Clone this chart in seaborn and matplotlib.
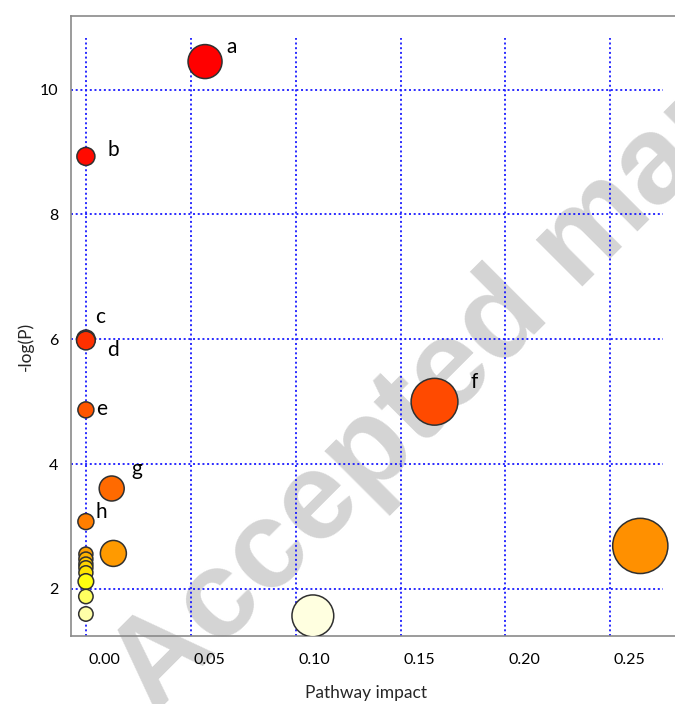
import matplotlib
matplotlib.use("Agg")
import matplotlib.pyplot as plt
import matplotlib.transforms as mtransforms
import numpy as np
import pandas as pd
import seaborn as sns

# ---- pathway data -------------------------------------------------------
impact = [0.0568, 0.0, 0.0, 0.0, 0.1662, 0.0, 0.0123, 0.0, 0.2643, 0.0131,
          0.0, 0.0, 0.0, 0.0, 0.0, 0.0, 0.0, 0.0, 0.1082]
neg_log_p = [10.45, 8.93, 6.00, 5.98, 5.00, 4.87, 3.61, 3.08, 2.69, 2.57,
             2.56, 2.48, 2.40, 2.34, 2.26, 2.12, 1.88, 1.60, 1.57]
point_labels = ["a", "b", "c", "d", "f", "e", "g", "h", "", "",
                "", "", "", "", "", "", "", "", ""]

x_ticks = [0.0, 0.05, 0.10, 0.15, 0.20, 0.25]
x_tick_labels = ["0.00", "0.05", "0.10", "0.15", "0.20", "0.25"]
y_ticks = [2, 4, 6, 8, 10]
y_tick_labels = ["2", "4", "6", "8", "10"]

# ---- per-point styling --------------------------------------------------
fill_colors = ["#FF0000", "#FF0A00", "#FF3000", "#FF3000", "#FF4A00", "#FF5500",
               "#FF6A00", "#FF7E00", "#FF9000", "#FF9A00",
               "#FFA000", "#FFB200", "#FFC400", "#FFD400", "#FFE400",
               "#FFFF10", "#FFFF60", "#FFFFA8", "#FFFFE0"]
radius_px = [17, 9, 9.3, 9.3, 23.4, 8, 12.5, 8, 27.6, 13,
             7, 7, 7, 7, 7, 7.8, 7.2, 7.2, 20.9]
# text offsets (pixels, y up) of each letter from its bubble centre
label_offsets = {"a": (27, 8.4), "b": (27.5, 0.7), "c": (14.6, 16),
                 "d": (27.5, -15.7), "e": (15.3, -5), "f": (39.4, 13.4),
                 "g": (25, 13.3), "h": (15.3, 3.4)}

DPI = 100
sns.set_style("white")
plt.rcParams["font.family"] = ["Lato", "DejaVu Sans"]

df = pd.DataFrame({
    "id": [f"p{i}" for i in range(len(impact))],
    "impact": impact,
    "neg_log_p": neg_log_p,
    "label": point_labels,
})
palette = dict(zip(df["id"], fill_colors))
sizes = {pid: (2 * r * 72 / DPI) ** 2 for pid, r in zip(df["id"], radius_px)}

fig = plt.figure(figsize=(6.75, 7.04), dpi=DPI)
W, H = 675, 704
ax = fig.add_axes([71 / W, 1 - 636 / H, (690 - 71) / W, (636 - 16) / H])
ax.set_facecolor("none")

x_lo, x_hi = -0.0071, 0.288
y_lo, y_hi = 1.247, 11.18
ax.set_xlim(x_lo, x_hi)
ax.set_ylim(y_lo, y_hi)

# dotted blue grid
grid_kw = dict(colors="#1a1aff", linewidth=1.3, linestyles=(0, (1.1, 1.5)), zorder=1)
ax.vlines(x_ticks, y_lo, 10.83, **grid_kw)
ax.hlines(y_ticks, x_lo, 0.275, **grid_kw)

sns.scatterplot(data=df, x="impact", y="neg_log_p", hue="id", palette=palette,
                size="id", sizes=sizes, edgecolor="#303030", linewidth=1.1,
                legend=False, ax=ax, zorder=3)

for _, row in df.iterrows():
    if row["label"]:
        dx, dy = label_offsets[row["label"]]
        ax.annotate(row["label"], (row["impact"], row["neg_log_p"]),
                    xytext=(dx, dy), textcoords="offset pixels",
                    ha="center", va="baseline", fontsize=15, color="black",
                    zorder=4)

# axes frame
for side in ["left", "top", "bottom"]:
    ax.spines[side].set_color("#8a8a8a")
    ax.spines[side].set_linewidth(1.2)
ax.spines["right"].set_visible(False)

ax.set_xticks(x_ticks)
ax.set_xticklabels(x_tick_labels)
ax.set_yticks(y_ticks)
ax.set_yticklabels(y_tick_labels)
ax.tick_params(length=0, labelsize=11.5, colors="black")
ax.tick_params(axis="x", pad=12)
ax.tick_params(axis="y", pad=9)
shift = mtransforms.ScaledTranslation(19 / DPI, 0, fig.dpi_scale_trans)
for lab in ax.get_xticklabels():
    lab.set_transform(lab.get_transform() + shift)

ax.set_xlabel("Pathway impact", fontsize=12.5)
ax.set_ylabel("-log(P)", fontsize=12.5)
ax.xaxis.label.set_va("center")
ax.yaxis.label.set_va("center")
ax.xaxis.set_label_coords((366 - 71) / (690 - 71), (636 - 693) / (636 - 16))
ax.yaxis.set_label_coords((26 - 71) / (690 - 71), (636 - 346) / (636 - 16))

# watermark
fig.text(155 / W, 1 - 715 / H, "Accepted manuscript", rotation=45,
         rotation_mode="anchor", ha="left", va="baseline", fontsize=90,
         fontweight="bold", color="#d4d4d4", family="Liberation Sans",
         zorder=-1)

fig.savefig("out.png", dpi=DPI)
